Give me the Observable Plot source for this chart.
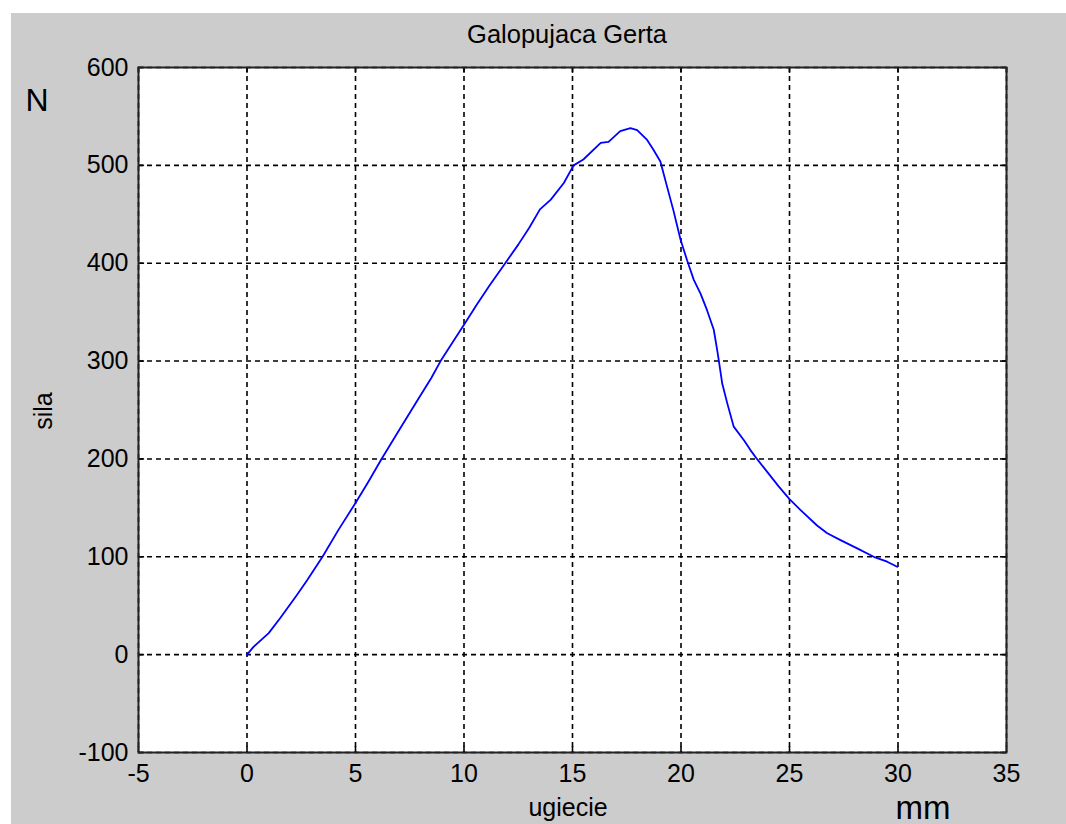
<!DOCTYPE html>
<html><head><meta charset="utf-8">
<script src="https://cdn.jsdelivr.net/npm/d3@7"></script>
<script src="https://cdn.jsdelivr.net/npm/@observablehq/plot@0.6"></script>
<style>
body{margin:0;background:#fff;width:1066px;height:824px;overflow:hidden;position:relative;font-family:"Liberation Sans",Arial,sans-serif;}
#panel{position:absolute;left:11px;top:13px;width:1055px;height:811px;background:#cccccc;}
#labels{position:absolute;left:0;top:0;pointer-events:none;}
#labels text{font-family:"Liberation Sans",Arial,sans-serif;fill:#000;}
</style></head><body>
<div id="panel"></div>
<svg id="labels" width="1066" height="824">
  <text x="567" y="43" text-anchor="middle" font-size="25.5">Galopujaca Gerta</text>
  <text x="37" y="111" text-anchor="middle" font-size="32">N</text>
  <text transform="translate(52,411) rotate(-90)" text-anchor="middle" font-size="25">sila</text>
  <text x="568" y="816" text-anchor="middle" font-size="25">ugiecie</text>
  <text x="923" y="819" text-anchor="middle" font-size="33">mm</text>
</svg>
<script>
const ugiecie = [0, 0.3, 1.0, 1.55, 2.3, 2.77, 3.48, 4.2, 5.0, 5.6, 6.2, 7.0, 7.8, 8.5, 8.92, 9.5, 10.0, 10.6, 11.2, 11.9, 12.5, 13.0, 13.5, 14.0, 14.6, 15.05, 15.5, 16.3, 16.66, 17.2, 17.67, 17.98, 18.44, 18.73, 19.05, 19.36, 19.65, 19.98, 20.28, 20.59, 20.9, 21.2, 21.51, 21.67, 21.74, 21.9, 22.13, 22.43, 22.9, 23.2, 23.5, 24.0, 24.5, 25.0, 25.5, 26.27, 26.74, 27.35, 28.12, 28.88, 29.5, 29.96];
const sila = [0, 8, 22, 38, 61, 76, 100, 127, 155, 177, 200, 229, 258, 283, 300, 320, 337, 358, 378, 400, 419, 436, 455, 465, 482, 500, 506, 523, 524, 535, 538, 536, 526, 516, 504, 478, 454, 424, 403, 383, 369, 352, 332, 311, 301, 277, 257, 233, 219, 209, 200, 186, 172, 159, 148, 132, 124, 117, 108.6, 100, 95, 89.8];
const xTicks = [-5, 0, 5, 10, 15, 20, 25, 30, 35];
const yTicks = [-100, 0, 100, 200, 300, 400, 500, 600];

const data = ugiecie.map((x, i) => ({x, y: sila[i]}));
const grid = {stroke: "#000", strokeWidth: 1.6, strokeDasharray: "5,4", strokeOpacity: 1};
const tick = {stroke: "#000", strokeWidth: 1.6, strokeOpacity: 1};

const chart = Plot.plot({
  width: 1055, height: 811,
  marginLeft: 127, marginRight: 60, marginTop: 54, marginBottom: 72,
  style: {background: "transparent", fontFamily: "Liberation Sans, Arial, sans-serif", fontSize: "25px", color: "#000"},
  x: {domain: [-5, 35], ticks: xTicks},
  y: {domain: [-100, 600], ticks: yTicks},
  marks: [
    Plot.frame({fill: "white", stroke: null}),
    Plot.ruleX(xTicks, grid),
    Plot.ruleY(yTicks, grid),
    Plot.ruleX(xTicks, {x: d => d, y1: -100, y2: -94, ...tick}),
    Plot.ruleX(xTicks, {x: d => d, y1: 600, y2: 594, ...tick}),
    Plot.ruleY(yTicks, {y: d => d, x1: -5, x2: -4.72, ...tick}),
    Plot.ruleY(yTicks, {y: d => d, x1: 35, x2: 34.72, ...tick}),
    Plot.line(data, {x: "x", y: "y", stroke: "#0000ff", strokeWidth: 1.8}),
    Plot.frame({stroke: "#222", strokeWidth: 2}),
    Plot.axisX({ticks: xTicks, tickSize: 0, tickPadding: 12, label: null, fontSize: 25, tickFormat: d => String(d)}),
    Plot.axisY({ticks: yTicks, tickSize: 0, tickPadding: 10, label: null, fontSize: 25, tickFormat: d => String(d)})
  ]
});
document.getElementById("panel").appendChild(chart);
</script>
</body></html>
